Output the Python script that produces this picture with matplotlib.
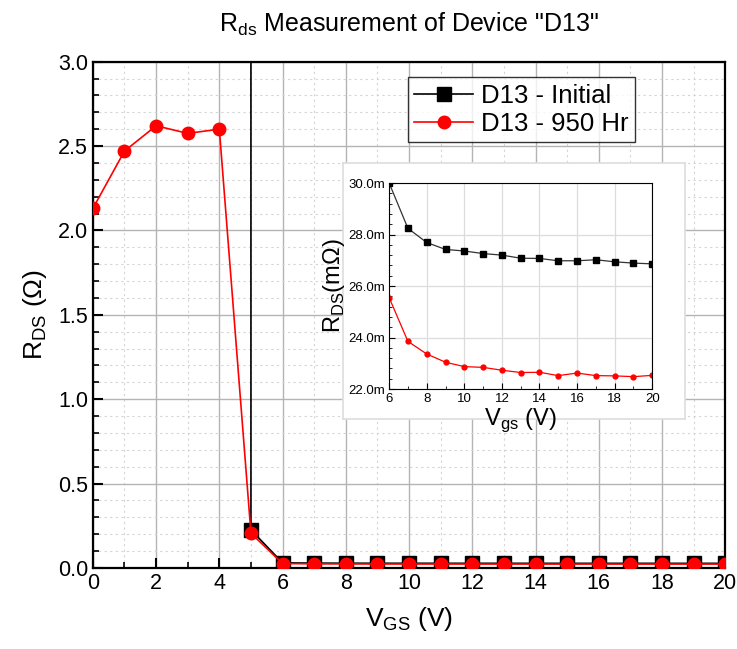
import numpy as np
import matplotlib
matplotlib.use("Agg")
import matplotlib.pyplot as plt
from matplotlib.ticker import MultipleLocator, AutoMinorLocator, FuncFormatter

plt.rcParams['font.family'] = ['Liberation Sans', 'DejaVu Sans']

# datos
vgs = np.arange(0, 21)
# la medición inicial está fuera de escala antes de 5 V
rds_inicial = np.array([1e4, 1e4, 1e4, 1e4, 1e4, 0.225,
                        0.03000, 0.02824, 0.02769, 0.02742, 0.02736, 0.02726,
                        0.02720, 0.02708, 0.02707, 0.02698, 0.02698, 0.02702,
                        0.02694, 0.02689, 0.02686])
rds_950 = np.array([2.13, 2.47, 2.62, 2.575, 2.60, 0.205,
                    0.02555, 0.02385, 0.02336, 0.02304, 0.02287, 0.02284,
                    0.02273, 0.02264, 0.02265, 0.02252, 0.02262, 0.02252,
                    0.02251, 0.02248, 0.02253])
etiquetas = ['D13 - Initial', 'D13 - 950 Hr']

fig = plt.figure(figsize=(7.37, 6.49), dpi=100)
ax = fig.add_axes([0.126, 0.125, 0.858, 0.78])

ax.plot(vgs, rds_inicial, color='black', lw=1.2, marker='s', ms=10,
        label=etiquetas[0], zorder=3)
ax.plot(vgs, rds_950, color='red', lw=1.2, marker='o', ms=9,
        label=etiquetas[1], zorder=4)

ax.set_xlim(0, 20)
ax.set_ylim(0, 3.0)
ax.xaxis.set_major_locator(MultipleLocator(2))
ax.xaxis.set_minor_locator(MultipleLocator(1))
ax.yaxis.set_major_locator(MultipleLocator(0.5))
ax.yaxis.set_minor_locator(MultipleLocator(0.1))
ax.yaxis.set_major_formatter(FuncFormatter(lambda v, p: f"{v:.1f}"))
ax.grid(which='major', color='#b4b4b4', lw=1.0, ls='-')
ax.grid(which='minor', color='#d4d4d4', lw=0.8, ls=(0, (2, 3)))
ax.set_axisbelow(True)
ax.tick_params(which='both', direction='in', top=False, right=False,
               labelsize=15.5)
ax.tick_params(which='major', length=7, width=1.5)
ax.tick_params(which='minor', length=4, width=1.2)
for s in ax.spines.values():
    s.set_linewidth(1.6)

ax.set_xlabel('V$_{\\mathregular{GS}}$ (V)', fontsize=19, labelpad=8)
ax.set_ylabel('R$_{\\mathregular{DS}}$ ($\\mathregular{\\Omega}$)', fontsize=19, labelpad=6)
fig.text(0.555, 0.962, 'R$_{\\mathregular{ds}}$ Measurement of Device "D13"',
         ha='center', va='center', fontsize=18)

leg = ax.legend(loc='upper right', bbox_to_anchor=(0.857, 0.969), fontsize=18.5,
                frameon=True, fancybox=False, edgecolor='black',
                handlelength=2.3, borderpad=0.25, labelspacing=0.15,
                handletextpad=0.3, borderaxespad=0)
leg.get_frame().set_linewidth(1.0)

# recuadro blanco del inserto
caja = fig.add_axes([0.465, 0.354, 0.464, 0.395])
caja.set_xticks([])
caja.set_yticks([])
caja.set_facecolor('white')
for s in caja.spines.values():
    s.set_color('#dddddd')
    s.set_linewidth(1.2)

ins = fig.add_axes([0.528, 0.4006, 0.357, 0.3174])
ins.plot(vgs[6:], rds_inicial[6:], color='#333333', lw=0.9, marker='s', ms=5,
         mfc='black', mec='black')
ins.plot(vgs[6:], rds_950[6:], color='red', lw=0.9, marker='o', ms=3.5)
ins.set_xlim(6, 20)
ins.set_ylim(0.022, 0.030)
ins.xaxis.set_major_locator(MultipleLocator(2))
ins.xaxis.set_minor_locator(MultipleLocator(1))
ins.yaxis.set_major_locator(MultipleLocator(0.002))
ins.yaxis.set_minor_locator(AutoMinorLocator(5))
ins.yaxis.set_major_formatter(FuncFormatter(lambda v, p: f"{v*1000:.1f}m"))
ins.grid(which='major', color='#dcdcdc', lw=0.9)
ins.set_axisbelow(True)
ins.tick_params(which='both', direction='in', top=False, right=False,
                labelsize=9.5, pad=3)
ins.tick_params(which='major', length=4)
ins.tick_params(which='minor', length=2)
ins.set_xlabel('V$_{\\mathregular{gs}}$ (V)', fontsize=17, labelpad=1)
ins.set_ylabel('R$_{\\mathregular{DS}}$(m$\\mathregular{\\Omega}$)', fontsize=17, labelpad=1)

fig.savefig('out.png', dpi=100)
